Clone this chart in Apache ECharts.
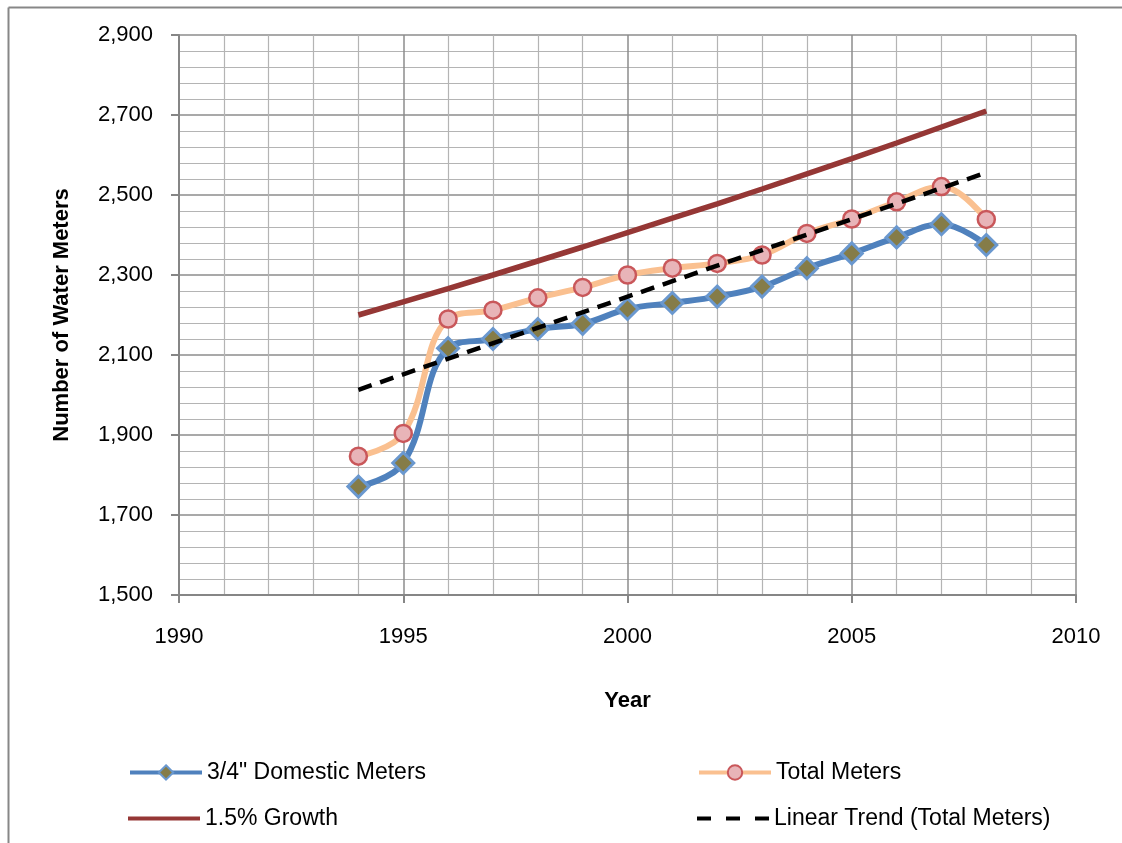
<!DOCTYPE html>
<html>
<head>
<meta charset="utf-8">
<script src="https://cdn.jsdelivr.net/npm/echarts@6/dist/echarts.min.js"></script>
<style>
html,body{margin:0;padding:0;background:#fff;}
#chart{width:1122px;height:843px;}
</style>
</head>
<body>
<div id="chart"></div>
<script>
var years = [1994,1995,1996,1997,1998,1999,2000,2001,2002,2003,2004,2005,2006,2007,2008];
var domestic = [1771,1830,2117,2140,2165,2178,2215,2230,2246,2271,2317,2354,2394,2427,2375];
var total = [1847,1904,2190,2212,2243,2269,2300,2317,2329,2350,2404,2440,2483,2521,2439];
var growth = [2200,2233,2266,2300,2335,2370,2406,2442,2478,2515,2553,2591,2630,2670,2710];
var trendYears = [1994,2008];
var trendValues = [2013,2556];
var xTicks = {min:1990, max:2010, step:5};
var yTicks = {min:1500, max:2900, step:200};

function pairs(xs, ys){ return xs.map(function(x,i){ return [x, ys[i]]; }); }

var FONT = 'Liberation Sans';
var chart = echarts.init(document.getElementById('chart'), null, {renderer:'canvas'});
var legendText = {fontFamily: FONT, fontSize: 23, color: '#000'};
function legendAt(item, left, top){
  return {data:[item], left:left, top:top, orient:'horizontal', itemWidth:72, itemHeight:18,
          textStyle: legendText, selectedMode:false, padding:0};
}
chart.setOption({
  animation:false,
  backgroundColor:'#fff',
  grid:{left:179, right:46, top:35, bottom:248, containLabel:false},
  xAxis:{
    type:'value', min:xTicks.min, max:xTicks.max, interval:xTicks.step,
    name:'Year', nameLocation:'middle', nameGap:95,
    nameTextStyle:{fontFamily:FONT, fontSize:22, fontWeight:'bold', color:'#000'},
    axisLine:{show:true, onZero:false, lineStyle:{color:'#868686', width:2}},
    axisTick:{show:true, inside:false, length:8, lineStyle:{color:'#868686', width:2}},
    axisLabel:{margin:31, fontFamily:FONT, fontSize:22, color:'#000',
      formatter:function(v){ return String(v); }},
    splitLine:{show:true, lineStyle:{color:'#8c8c8c', width:1.5}},
    minorTick:{show:false, splitNumber:5},
    minorSplitLine:{show:true, lineStyle:{color:'#b4b4b4', width:1.2}}
  },
  yAxis:{
    type:'value', min:yTicks.min, max:yTicks.max, interval:yTicks.step,
    name:'Number of Water Meters', nameLocation:'middle', nameGap:106, nameRotate:90,
    nameTextStyle:{fontFamily:FONT, fontSize:22, fontWeight:'bold', color:'#000'},
    axisLine:{show:true, lineStyle:{color:'#868686', width:2}},
    axisTick:{show:true, inside:false, length:8, lineStyle:{color:'#868686', width:2}},
    axisLabel:{margin:26, fontFamily:FONT, fontSize:22, color:'#000',
      formatter:function(v){ return v.toLocaleString('en-US'); }},
    splitLine:{show:true, lineStyle:{color:'#8c8c8c', width:1.5}},
    minorTick:{show:false, splitNumber:5},
    minorSplitLine:{show:true, lineStyle:{color:'#b4b4b4', width:1.2}}
  },
  legend:[
    legendAt({name:'3/4" Domestic Meters', lineStyle:{width:4}}, 128, 761),
    legendAt({name:'Total Meters', lineStyle:{width:4}}, 697, 761),
    legendAt({name:'1.5% Growth', icon:'path://M0,0H72V4H0Z', itemStyle:{color:'#953735'}}, 128, 807),
    legendAt({name:'Linear Trend (Total Meters)', icon:'path://M0,0H14V4H0Z M29,0H43V4H29Z M58,0H72V4H58Z', itemStyle:{color:'#000'}}, 697, 807)
  ],
  graphic:[
    {type:'line', shape:{x1:8.5, y1:7.5, x2:1122, y2:7.5}, style:{stroke:'#878787', lineWidth:2}, silent:true},
    {type:'line', shape:{x1:8.5, y1:7.5, x2:8.5, y2:843}, style:{stroke:'#878787', lineWidth:2}, silent:true}
  ],
  series:[
    {name:'3/4" Domestic Meters', type:'line', data:pairs(years, domestic), smooth:0.4,
     lineStyle:{color:'#4f81bd', width:6},
     itemStyle:{color:'#857c48', borderColor:'#6a98cf', borderWidth:3},
     symbol:'diamond', symbolSize:21, z:2},
    {name:'Total Meters', type:'line', data:pairs(years, total), smooth:0.4,
     lineStyle:{color:'#fac090', width:6},
     itemStyle:{color:'#e8b4b8', borderColor:'#c9575a', borderWidth:2.5},
     symbol:'circle', symbolSize:17, z:3},
    {name:'1.5% Growth', type:'line', data:pairs(years, growth), smooth:false,
     lineStyle:{color:'#953735', width:5.5}, itemStyle:{color:'#953735'},
     symbol:'none', showSymbol:false, z:4},
    {name:'Linear Trend (Total Meters)', type:'line', data:pairs(trendYears, trendValues),
     lineStyle:{color:'#000', width:4.5, type:[14,9]}, itemStyle:{color:'#000'},
     symbol:'none', showSymbol:false, z:5}
  ]
});
</script>
</body>
</html>
